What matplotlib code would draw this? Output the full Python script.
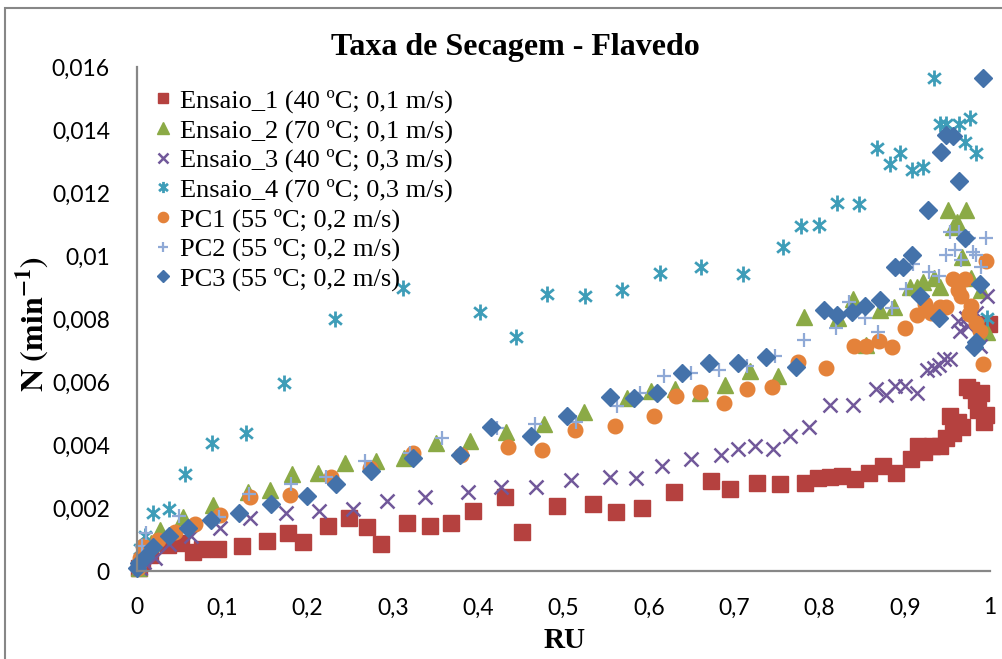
import matplotlib
matplotlib.use("Agg")
import matplotlib.pyplot as plt
import matplotlib.patches as mpatches
from matplotlib.path import Path

# Dados
ens1_x = [0.002, 0.006, 0.015, 0.036, 0.052, 0.066, 0.076, 0.095, 0.123, 0.152, 0.177, 0.195,
          0.224, 0.249, 0.27, 0.286, 0.317, 0.343, 0.368, 0.394, 0.432, 0.451, 0.492, 0.534,
          0.562, 0.592, 0.63, 0.673, 0.695, 0.727, 0.754, 0.783, 0.798, 0.812, 0.827, 0.842,
          0.858, 0.874, 0.89, 0.907, 0.916, 0.923, 0.932, 0.941, 0.948, 0.953, 0.957, 0.962,
          0.967, 0.973, 0.978, 0.984, 0.986, 0.99, 0.993, 0.995, 0.999]
ens1_y = [0.0001, 0.0003, 0.00051, 0.00083, 0.00088, 0.00061, 0.0007, 0.0007, 0.0008, 0.00095,
          0.0012, 0.00092, 0.00143, 0.00168, 0.0014, 0.00086, 0.00152, 0.00143, 0.00153, 0.0019,
          0.00236, 0.00125, 0.00206, 0.00213, 0.00188, 0.00199, 0.0025, 0.00287, 0.0026, 0.00278,
          0.00276, 0.0028, 0.00296, 0.003, 0.00303, 0.00291, 0.00311, 0.00333, 0.00311, 0.00357,
          0.00398, 0.00379, 0.00398, 0.00398, 0.00421, 0.00492, 0.00439, 0.00474, 0.00458,
          0.00583, 0.00575, 0.00543, 0.00511, 0.00566, 0.00474, 0.00495, 0.00784]

ens2_x = [0.002, 0.008, 0.016, 0.027, 0.054, 0.089, 0.13, 0.156, 0.182, 0.212, 0.244, 0.28,
          0.313, 0.35, 0.39, 0.433, 0.477, 0.524, 0.575, 0.602, 0.631, 0.66, 0.689, 0.719,
          0.751, 0.782, 0.822, 0.839, 0.855, 0.871, 0.887, 0.906, 0.914, 0.922, 0.934, 0.941,
          0.951, 0.957, 0.961, 0.967, 0.972, 0.978, 0.99, 0.996]
ens2_y = [0.0001, 0.0006, 0.0009, 0.0013, 0.00172, 0.0021, 0.00252, 0.00257, 0.00307, 0.00312,
          0.00342, 0.00349, 0.0036, 0.00405, 0.00414, 0.0044, 0.00466, 0.00504, 0.0055, 0.00572,
          0.00577, 0.00564, 0.0059, 0.00636, 0.00619, 0.00806, 0.00803, 0.00865, 0.00717,
          0.00829, 0.00838, 0.00903, 0.00903, 0.00919, 0.00929, 0.00903, 0.01146, 0.01093,
          0.01109, 0.00998, 0.01146, 0.00929, 0.00892, 0.0076]

ens3_x = [0.003, 0.008, 0.021, 0.037, 0.063, 0.097, 0.132, 0.175, 0.213, 0.253, 0.293, 0.338,
          0.388, 0.427, 0.468, 0.509, 0.554, 0.585, 0.615, 0.649, 0.685, 0.705, 0.725, 0.746,
          0.766, 0.788, 0.812, 0.839, 0.866, 0.878, 0.889, 0.9, 0.914, 0.926, 0.934, 0.94,
          0.946, 0.953, 0.962, 0.965, 0.972, 0.974, 0.984, 0.988, 0.996]
ens3_y = [0.0001, 0.0003, 0.0004, 0.00085, 0.00111, 0.00136, 0.00169, 0.00183, 0.0019, 0.00197,
          0.00222, 0.00236, 0.00252, 0.00268, 0.00266, 0.00289, 0.003, 0.00294, 0.00334, 0.00355,
          0.00368, 0.00387, 0.00397, 0.00387, 0.0043, 0.00456, 0.00527, 0.00527, 0.00578,
          0.00559, 0.00588, 0.00587, 0.00564, 0.00638, 0.00645, 0.00654, 0.00672, 0.00673,
          0.00795, 0.00763, 0.00802, 0.00778, 0.00819, 0.00714, 0.00873]

ens4_x = [0.001, 0.004, 0.009, 0.019, 0.037, 0.056, 0.088, 0.128, 0.172, 0.232, 0.312, 0.402,
          0.444, 0.481, 0.525, 0.569, 0.613, 0.661, 0.71, 0.757, 0.778, 0.8, 0.821, 0.846,
          0.868, 0.883, 0.895, 0.909, 0.922, 0.934, 0.941, 0.949, 0.964, 0.971, 0.977, 0.984,
          0.996]
ens4_y = [0.0002, 0.0007, 0.00111, 0.00183, 0.00196, 0.00307, 0.00405, 0.00437, 0.00596,
          0.00799, 0.00897, 0.00823, 0.00742, 0.0088, 0.00873, 0.00892, 0.00946, 0.00965,
          0.00942, 0.01028, 0.01096, 0.011, 0.01167, 0.01164, 0.01344, 0.01292, 0.01328,
          0.01273, 0.01282, 0.01564, 0.01419, 0.01419, 0.01419, 0.01363, 0.01437, 0.01326,
          0.00802]

pc1_x = [0.001, 0.003, 0.007, 0.025, 0.044, 0.068, 0.097, 0.132, 0.179, 0.228, 0.273, 0.323,
         0.38, 0.435, 0.475, 0.514, 0.56, 0.606, 0.632, 0.66, 0.688, 0.715, 0.745, 0.775,
         0.808, 0.841, 0.855, 0.87, 0.885, 0.9, 0.915, 0.924, 0.931, 0.941, 0.949, 0.957,
         0.962, 0.966, 0.971, 0.975, 0.978, 0.984, 0.988, 0.992, 0.995]
pc1_y = [0.0001, 0.0004, 0.0008, 0.00098, 0.00125, 0.0015, 0.00177, 0.00234, 0.00241, 0.003,
         0.00326, 0.00375, 0.00368, 0.00393, 0.00384, 0.00448, 0.00461, 0.00492, 0.00557,
         0.00567, 0.00532, 0.00578, 0.00585, 0.00662, 0.00643, 0.00714, 0.00714, 0.00731,
         0.0071, 0.00773, 0.00813, 0.00848, 0.0082, 0.00839, 0.00839, 0.00927, 0.00892,
         0.00873, 0.00927, 0.00816, 0.00841, 0.00786, 0.00763, 0.00656, 0.00984]

pc2_x = [0.002, 0.006, 0.011, 0.049, 0.096, 0.131, 0.181, 0.222, 0.267, 0.32, 0.357, 0.422,
         0.467, 0.515, 0.563, 0.59, 0.618, 0.65, 0.682, 0.715, 0.748, 0.782, 0.819, 0.835,
         0.853, 0.869, 0.885, 0.902, 0.91, 0.929, 0.94, 0.949, 0.953, 0.959, 0.964, 0.966,
         0.975, 0.98, 0.984, 0.99, 0.995]
pc2_y = [0.0003, 0.0008, 0.00122, 0.00174, 0.00172, 0.00244, 0.00275, 0.003, 0.00349, 0.00376,
         0.00423, 0.00455, 0.00466, 0.00474, 0.00524, 0.00564, 0.00619, 0.0063, 0.00638,
         0.00652, 0.00683, 0.00733, 0.0077, 0.00855, 0.00802, 0.0076, 0.00834, 0.00894,
         0.00975, 0.00948, 0.00937, 0.01003, 0.01077, 0.01019, 0.01077, 0.00987, 0.01056,
         0.01014, 0.01003, 0.00966, 0.01056]

pc3_x = [0.0, 0.002, 0.009, 0.019, 0.037, 0.06, 0.087, 0.12, 0.157, 0.199, 0.233, 0.274,
         0.324, 0.379, 0.415, 0.462, 0.504, 0.555, 0.583, 0.61, 0.639, 0.671, 0.704, 0.737,
         0.772, 0.805, 0.821, 0.838, 0.854, 0.871, 0.889, 0.898, 0.909, 0.918, 0.927, 0.94,
         0.943, 0.949, 0.957, 0.964, 0.971, 0.981, 0.984, 0.988, 0.992]
pc3_y = [0.0001, 0.00024, 0.00045, 0.00077, 0.0011, 0.00136, 0.00162, 0.00185, 0.00212,
         0.00238, 0.00275, 0.00318, 0.00358, 0.00368, 0.00456, 0.00429, 0.00493, 0.00551,
         0.0055, 0.00564, 0.0063, 0.00659, 0.00659, 0.00678, 0.00649, 0.00829, 0.00813,
         0.00823, 0.00841, 0.0086, 0.00966, 0.00966, 0.01003, 0.00874, 0.01146, 0.00802,
         0.01329, 0.01384, 0.01381, 0.01239, 0.01056, 0.00712, 0.00728, 0.00911, 0.01564]

rotulos = ["Ensaio_1 (40 ºC; 0,1 m/s)", "Ensaio_2 (70 ºC; 0,1 m/s)",
           "Ensaio_3 (40 ºC; 0,3 m/s)", "Ensaio_4 (70 ºC; 0,3 m/s)",
           "PC1 (55 ºC; 0,2 m/s)", "PC2 (55 ºC; 0,2 m/s)", "PC3 (55 ºC; 0,2 m/s)"]

x_ticks = [0, 0.1, 0.2, 0.3, 0.4, 0.5, 0.6, 0.7, 0.8, 0.9, 1]
x_rotulos = ["0", "0,1", "0,2", "0,3", "0,4", "0,5", "0,6", "0,7", "0,8", "0,9", "1"]
y_ticks = [0, 0.002, 0.004, 0.006, 0.008, 0.01, 0.012, 0.014, 0.016]
y_rotulos = ["0", "0,002", "0,004", "0,006", "0,008", "0,01", "0,012", "0,014", "0,016"]

# Marcador asterisco estilo Excel (x + barra vertical)
asterisco = Path([(0, -1), (0, 1), (-0.8, -0.65), (0.8, 0.65), (-0.8, 0.65), (0.8, -0.65)],
                 [Path.MOVETO, Path.LINETO] * 3)

estilos = [
    dict(marker="s", color="#B5413F", ms=11, mec="#B5413F"),
    dict(marker="^", color="#8BAA46", ms=11.5, mec="#8BAA46"),
    dict(marker="x", color="#71589A", ms=9.5, mew=1.8),
    dict(marker=asterisco, color="#3E9DB8", ms=11.5, mew=2),
    dict(marker="o", color="#E4823A", ms=10.5, mec="#E4823A"),
    dict(marker="+", color="#8FA9D6", ms=10.5, mew=1.6),
    dict(marker="D", color="#4472AA", ms=9, mec="#4472AA"),
]

series = [(ens1_x, ens1_y), (ens2_x, ens2_y), (ens3_x, ens3_y), (ens4_x, ens4_y),
          (pc1_x, pc1_y), (pc2_x, pc2_y), (pc3_x, pc3_y)]

plt.rcParams["mathtext.fontset"] = "stix"

fig = plt.figure(figsize=(10.03, 6.59), dpi=100)
ax = fig.add_axes([137 / 1003, 88 / 659, 853 / 1003, 504 / 659])

for (xs, ys), est, rot in zip(series, estilos, rotulos):
    ax.plot(xs, ys, linestyle="none", label=rot, clip_on=False, **est)

ax.set_xlim(0, 1)
ax.set_ylim(0, 0.016)
ax.set_xticks(x_ticks)
ax.set_xticklabels(x_rotulos)
ax.set_yticks(y_ticks)
ax.set_yticklabels(y_rotulos)
ax.tick_params(length=0, labelsize=16.5)
ax.tick_params(axis="y", pad=19.5)
ax.tick_params(axis="x", pad=19)
for lab in ax.get_xticklabels() + ax.get_yticklabels():
    lab.set_family("Lato")

for lado in ("top", "right"):
    ax.spines[lado].set_visible(False)
for lado in ("left", "bottom"):
    ax.spines[lado].set_color("#878787")
    ax.spines[lado].set_linewidth(1.6)

fig.text(515 / 1003, 1 - 47 / 659, "Taxa de Secagem - Flavedo", ha="center", va="center",
         fontsize=23, fontweight="bold", family="Liberation Serif")
fig.text(565 / 1003, 1 - 641 / 659, "RU", ha="center", va="center",
         fontsize=21, fontweight="bold", family="Liberation Serif")
fig.text(32 / 1003, 1 - 324 / 659, r"$\mathbf{N\ (min^{-1})}$", ha="center", va="center",
         rotation=90, fontsize=23)

leg = ax.legend(loc="upper left", bbox_to_anchor=(154 / 1003, 1 - 89 / 659),
                bbox_transform=fig.transFigure, frameon=False, markerscale=0.7,
                handlelength=0.7, handletextpad=0.3, labelspacing=0.22,
                borderpad=0, borderaxespad=0,
                prop={"family": "Liberation Serif", "size": 19})

# Borda da área do gráfico (estilo Excel)
fig.patches.append(mpatches.Rectangle((5 / 1003, -0.05), 1.1, 1.05 - 8 / 659,
                                      transform=fig.transFigure, fill=False,
                                      edgecolor="#878787", linewidth=1.5))

fig.savefig("out.png", dpi=100)
